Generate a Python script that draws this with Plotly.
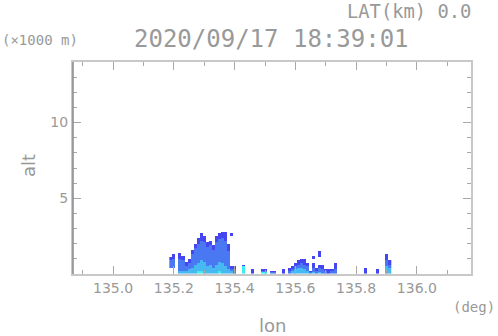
import numpy as np
import plotly.graph_objects as go

# ---- data ----
# echo columns: lon (deg), echo top (km), echo base (km), and top of each colour level
col_lon  = [135.19,135.20,135.22,135.23,135.24,135.25,135.26,135.27,135.28,135.29,135.30,
            135.31,135.32,135.33,135.34,135.35,135.36,135.37,135.38,135.39,135.40,135.43,
            135.46,135.49,135.50,135.52,135.53,135.56,135.58,135.59,135.60,135.61,135.62,
            135.63,135.64,135.65,135.66,135.67,135.68,135.69,135.70,135.71,135.72,135.73,
            135.83,135.87,135.90,135.91]
col_top  = [1.10,1.25,1.40,1.20,0.80,1.00,1.60,2.00,2.40,2.65,2.50,
            2.10,2.20,1.90,2.50,2.70,2.80,2.75,2.00,0.45,0.45,0.55,
            0.30,0.30,0.30,0.20,0.20,0.25,0.35,0.50,0.65,0.85,1.00,
            0.95,0.70,0.20,0.65,0.40,0.60,0.55,0.30,0.25,0.30,0.70,
            0.35,0.30,1.25,0.90]
col_base = [0.45,0.45,0,0,0,0,0,0,0,0,0,
            0,0,0,0,0,0,0,0,0,0,0,
            0,0,0,0,0,0,0,0,0,0,0,
            0,0,0,0,0,0,0,0,0,0,0,
            0,0,0,0]
lvl2_top = [0.9,1.0,1.0,0.9,0.5,0.7,1.3,1.7,2.0,2.2,2.1,
            1.8,1.9,1.6,2.1,2.3,2.4,2.2,1.5,0.3,0.3,0.5,
            0,0.2,0.2,0.1,0.1,0,0.2,0.35,0.5,0.6,0.7,
            0.6,0.5,0.1,0.4,0.2,0.4,0.3,0.2,0,0.2,0.3,
            0,0,0.9,0.6]
lvl3_top = [0,0,0.2,0.2,0.2,0.3,0.4,0.6,0.7,0.9,0.8,
            0.5,0.6,0.4,0.6,0.8,0.7,0.5,0.3,0.2,0,0.5,
            0,0.1,0.1,0,0,0,0,0.2,0.3,0.4,0.4,
            0.3,0.2,0,0.1,0,0.1,0,0,0,0,0,
            0,0,0.5,0.4]
lvl4_top = [0,0,0,0,0,0,0,0,0.2,0.2,0,
            0,0,0,0,0.2,0,0,0,0,0,0.5,
            0,0.1,0.1,0,0,0,0,0,0,0,0,
            0,0,0,0,0,0,0,0,0,0,0,
            0,0,0,0]
# detached echo cells aloft
dot_lon  = [135.39, 135.66, 135.68]
dot_base = [2.50, 1.00, 1.10]
dot_top  = [2.70, 1.15, 1.50]

x_ticks = [135.0, 135.2, 135.4, 135.6, 135.8, 136.0]
x_tick_text = ["135.0", "135.2", "135.4", "135.6", "135.8", "136.0"]
y_ticks = [5, 10]
y_tick_text = ["5", "10"]

# ---- build grid ----
lon_grid = np.round(np.arange(135.19, 135.915, 0.01), 2)
alt_grid = np.round(np.arange(0.05, 3.0, 0.1), 2)
z = np.full((len(alt_grid), len(lon_grid)), np.nan)
for i, lo in enumerate(col_lon):
    j = int(np.argmin(np.abs(lon_grid - lo)))
    for k, a in enumerate(alt_grid):
        if a < col_base[i] or a > col_top[i]:
            continue
        if a < lvl4_top[i]:
            v = 4
        elif a < lvl3_top[i]:
            v = 3
        elif a < lvl2_top[i]:
            v = 2
        else:
            v = 1
        z[k, j] = v
for i, lo in enumerate(dot_lon):
    j = int(np.argmin(np.abs(lon_grid - lo)))
    for k, a in enumerate(alt_grid):
        if dot_base[i] <= a <= dot_top[i]:
            z[k, j] = 1

cs = [[0.0, "#4646f0"], [0.25, "#4646f0"],
      [0.25, "#4a78f2"], [0.5, "#4a78f2"],
      [0.5, "#46b8f2"], [0.75, "#46b8f2"],
      [0.75, "#40ecec"], [1.0, "#40ecec"]]

fig = go.Figure(go.Heatmap(x=lon_grid, y=alt_grid, z=z, colorscale=cs,
                           zmin=0.5, zmax=4.5, showscale=False, hoverinfo="skip"))

W, H = 498, 336
L, R, T, B = 73, 27, 62, 62
pw, ph = W - L - R, H - T - B
def px(x): return (x - L) / pw
def py(y): return 1 - (y - T) / ph

gray = "#999999"
font = "DejaVu Sans"
mono = "DejaVu Sans Mono"
fig.update_layout(
    width=W, height=H, margin=dict(l=L, r=R, t=T, b=B),
    paper_bgcolor="white", plot_bgcolor="white",
    font=dict(family=font, color=gray, size=14),
    showlegend=False,
)
fig.update_xaxes(range=[134.868, 136.178], tickvals=x_ticks, ticktext=x_tick_text,
                 ticks="inside", ticklen=8, tickcolor="#a8a8a8", tickwidth=1,
                 minor=dict(dtick=0.1, tick0=135.0, ticks="inside", ticklen=4, tickcolor="#a8a8a8"),
                 showgrid=False, zeroline=False, showline=True, linecolor="#c8c8c8", linewidth=2,
                 mirror="ticks", tickfont=dict(size=14, color=gray))
fig.update_yaxes(range=[0, 14], tickvals=y_ticks, ticktext=y_tick_text,
                 ticks="inside", ticklen=8, tickcolor="#a8a8a8", tickwidth=1,
                 minor=dict(dtick=1, tick0=0, ticks="inside", ticklen=4, tickcolor="#a8a8a8"),
                 showgrid=False, zeroline=False, showline=True, linecolor="#c8c8c8", linewidth=2,
                 mirror="ticks", tickfont=dict(size=14, color=gray))
# darker left axis line as in the reference
fig.add_shape(type="line", xref="paper", yref="paper", x0=0, x1=0, y0=0, y1=1,
              line=dict(color="#8a8a8a", width=1.5), layer="above")

ann = [
    dict(text="LAT(km) 0.0", x=px(345), y=py(12), xanchor="left", yanchor="middle", size=18.8, fam=mono),
    dict(text="2020/09/17 18:39:01", x=px(271), y=py(39), xanchor="center", yanchor="middle", size=24, fam=mono),
    dict(text="(×1000 m)", x=px(0), y=py(40), xanchor="left", yanchor="middle", size=14, fam=mono),
    dict(text="(deg)", x=px(497), y=py(307), xanchor="right", yanchor="middle", size=14, fam=mono),
    dict(text="lon", x=px(272), y=py(325), xanchor="center", yanchor="middle", size=18, fam=font),
]
for a in ann:
    fig.add_annotation(text=a["text"], x=a["x"], y=a["y"], xref="paper", yref="paper",
                       xanchor=a["xanchor"], yanchor=a["yanchor"], showarrow=False,
                       font=dict(family=a["fam"], size=a["size"], color=gray))
fig.add_annotation(text="alt", x=px(28), y=py(166), xref="paper", yref="paper",
                   textangle=-90, showarrow=False, xanchor="center", yanchor="middle",
                   font=dict(family=font, size=18, color=gray))

fig.write_html("out.html", config={"displayModeBar": False},
               post_script="document.body.style.margin='0';")
